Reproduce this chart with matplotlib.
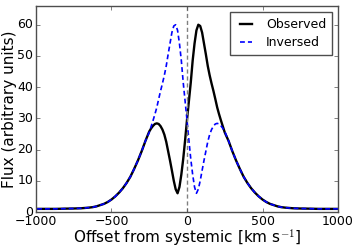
import numpy as np
import matplotlib
matplotlib.use("Agg")
import matplotlib.pyplot as plt

plt.style.use('classic')

velocity = (
    [-1000, -975, -950, -925, -900, -875, -850, -825, -800, -775,
     -750, -725, -700, -675, -650, -625, -600, -575, -550, -525,
     -500, -475, -450, -425, -400, -375, -350, -325, -300, -275]
    + [-250, -237.5, -225, -212.5, -200, -187.5, -175, -162.5, -150, -137.5,
       -125, -112.5, -100, -87.5, -75, -62.5, -50, -37.5, -25, -12.5,
       0, 12.5, 25, 37.5, 50, 62.5, 75, 87.5, 100, 112.5,
       125, 137.5, 150, 162.5, 175, 187.5, 200, 212.5, 225, 237.5, 250]
    + [275, 300, 325, 350, 375, 400, 425, 450, 475, 500,
       525, 550, 575, 600, 625, 650, 675, 700, 725, 750,
       775, 800, 825, 850, 875, 900, 925, 950, 975, 1000]
)
observed = (
    [1.0, 1.0, 1.0, 1.0, 1.0, 1.0, 1.02, 1.05, 1.08, 1.1,
     1.12, 1.16, 1.2, 1.3, 1.4, 1.55, 1.8, 2.2, 2.6, 3.2,
     4.0, 5.0, 6.2, 7.6, 9.3, 11.3, 13.8, 16.5, 19.5, 22.8]
    + [25.8, 26.8, 27.6, 28.2, 28.4, 28.2, 27.5, 26.4, 24.8, 22.5,
       19.5, 16.5, 13.3, 10.0, 7.3, 6.0, 8.0, 12.0, 17.0, 23.0,
       29.5, 35.5, 41.5, 48.5, 54.0, 58.2, 60.0, 59.6, 57.5, 54.0,
       50.5, 46.8, 43.8, 41.2, 38.8, 36.2, 33.5, 31.3, 29.3, 27.4, 25.5]
    + [22.8, 19.5, 16.5, 13.8, 11.3, 9.3, 7.6, 6.2, 5.0, 4.0,
       3.2, 2.6, 2.2, 1.8, 1.55, 1.4, 1.3, 1.2, 1.16, 1.12,
       1.1, 1.08, 1.05, 1.02, 1.0, 1.0, 1.0, 1.0, 1.0, 1.0]
)
inv_velocity = [-v for v in velocity]
inversed = observed

xticks = [-1000, -500, 0, 500, 1000]
yticks = [0, 10, 20, 30, 40, 50, 60]

fig = plt.figure(figsize=(3.57, 2.5), dpi=100, facecolor='white')
ax = fig.add_axes([0.1008, 0.152, 0.846, 0.824])
ax.set_facecolor('white')

ax.plot(velocity, observed, color='black', lw=1.7, label='Observed')
ax.plot(inv_velocity, inversed, color='blue', lw=1.2, ls='--',
        dashes=(3.5, 2.2), label='Inversed')
ax.axvline(0, color='gray', ls='--', lw=1.0, dashes=(3, 2))

ax.set_xlim(-1000, 1000)
ax.set_ylim(0, 66)
ax.set_xticks(xticks)
ax.set_yticks(yticks)
ax.tick_params(labelsize=9, length=3, color='0.3', pad=2)
for s in ax.spines.values():
    s.set_edgecolor('0.3')

ax.set_xlabel(r'Offset from systemic [km s$^{-1}$]', fontsize=11, labelpad=0)
ax.set_ylabel('Flux (arbitrary units)', fontsize=11, labelpad=0)

leg = ax.legend(loc='upper right', fontsize=9, handlelength=1.6, borderpad=0.45,
                labelspacing=0.4, fancybox=False)
leg.get_frame().set_edgecolor('0.3')

fig.savefig('out.png', dpi=100, facecolor='white')
